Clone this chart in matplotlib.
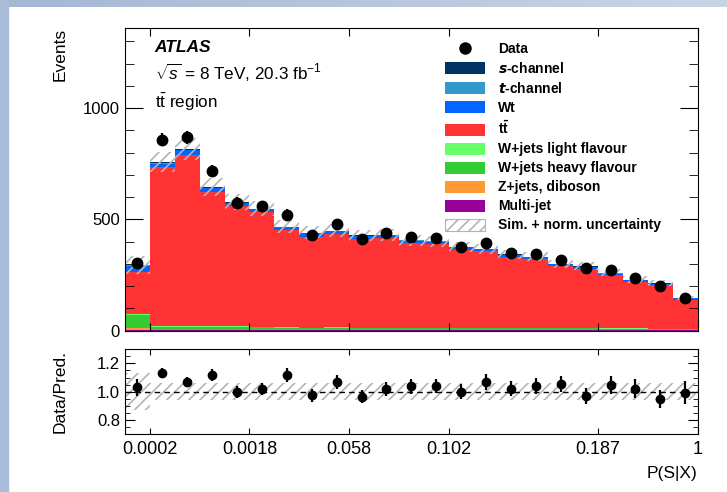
import numpy as np
import matplotlib
matplotlib.use("Agg")
import matplotlib.pyplot as plt
from matplotlib.patches import Patch, Rectangle
from matplotlib.lines import Line2D

plt.rcParams['font.family'] = ['Liberation Sans', 'DejaVu Sans']
plt.rcParams['mathtext.fontset'] = 'custom'
plt.rcParams['mathtext.rm'] = 'Liberation Sans'
plt.rcParams['mathtext.it'] = 'Liberation Sans:italic'
plt.rcParams['mathtext.bf'] = 'Liberation Sans:bold'
plt.rcParams['hatch.linewidth'] = 1.2

# --- datos ---
tick_pos = [1, 5, 9, 13, 19, 23]
tick_labels = ['0.0002', '0.0018', '0.058', '0.102', '0.187', '1']

data = [305, 857, 870, 719, 576, 559, 522, 430, 480, 413, 438, 422,
        418, 377, 393, 350, 345, 317, 280, 272, 235, 202, 146]

multijet = [2, 1, 1, 1, 1, 1, 1, 1, 1, 1, 1, 1, 1, 1, 1, 1, 1, 1, 1, 1, 1, 1, 1]
zjets = [8, 3, 3, 3, 3, 3, 3, 2, 2, 2, 2, 2, 2, 2, 2, 2, 2, 2, 2, 2, 2, 2, 1]
wj_heavy = [62, 12, 12, 11, 11, 11, 10, 9, 9, 8, 9, 8, 8, 8, 8, 7, 7, 7, 7, 6, 6, 5, 4]
wj_light = [2, 3, 3, 6, 4, 3, 3, 2, 3, 3, 2, 2, 2, 2, 3, 2, 2, 2, 2, 1, 1, 1, 1]
ttbar = [192, 715, 770, 601, 540, 516, 436, 409, 420, 399, 403, 380,
         376, 351, 342, 319, 308, 278, 266, 240, 210, 195, 133]
wt = [26, 17, 21, 17, 14, 12, 12, 15, 12, 12, 11, 11, 10, 10, 9, 9, 9, 8, 8, 7, 7, 6, 5]
t_chan = [3, 4, 4, 3, 3, 2, 2, 2, 2, 2, 2, 2, 2, 2, 2, 2, 2, 2, 2, 2, 2, 2, 1]
s_chan = [1, 2, 2, 2, 1, 1, 1, 1, 1, 1, 1, 1, 1, 1, 1, 1, 1, 1, 1, 1, 1, 1, 1]

# incertidumbre relativa (sim. + norm.)
unc_rel = [0.133, 0.06, 0.062, 0.062, 0.062, 0.062, 0.062, 0.062, 0.062, 0.062, 0.062, 0.062,
           0.062, 0.062, 0.062, 0.062, 0.062, 0.062, 0.062, 0.062, 0.062, 0.062, 0.062]

# --- estilo ---
stack = [
    (multijet, '#990099', 'Multi-jet'),
    (zjets, '#ff9933', 'Z+jets, diboson'),
    (wj_heavy, '#33cc33', 'W+jets heavy flavour'),
    (wj_light, '#66ff66', 'W+jets light flavour'),
    (ttbar, '#ff3333', r't$\mathbf{\bar{t}}$'),
    (wt, '#0066ff', 'Wt'),
    (t_chan, '#3399cc', r'$\mathbfit{t}$-channel'),
    (s_chan, '#003366', r'$\mathbfit{s}$-channel'),
]
HATCH_COL = '#b4b4b4'

n = len(data)
x = np.arange(n)
centers = x + 0.5
data = np.array(data, dtype=float)
unc_rel = np.array(unc_rel)

fig = plt.figure(figsize=(7.27, 4.92), dpi=100)

# marco azul de la diapositiva
strip_top = fig.add_axes([0, 1 - 7 / 492, 1, 7 / 492])
strip_top.imshow(np.linspace(0, 1, 256)[None, :], aspect='auto',
                 cmap=matplotlib.colors.LinearSegmentedColormap.from_list('s', ['#a4b7d3', '#c9d5e7']),
                 extent=[0, 1, 0, 1])
strip_top.axis('off')
fig.patches.append(Rectangle((0, 0), 8 / 727, 1, transform=fig.transFigure, color='#a9bcd8', zorder=0))

ax = fig.add_axes([0.1719, 0.3278, 0.7878, 0.6153])
rax = fig.add_axes([0.1719, 0.1179, 0.7878, 0.1722])

bottom = np.zeros(n)
for vals, col, lab in stack:
    vals = np.array(vals, dtype=float)
    ax.bar(x, vals, bottom=bottom, width=1.0, align='edge', color=col, linewidth=0)
    bottom += vals
total = bottom

unc = total * unc_rel
ax.bar(x, 2 * unc, bottom=total - unc, width=1.0, align='edge', fill=False,
       hatch='///', edgecolor=HATCH_COL, linewidth=0)

err = np.sqrt(data)
ax.errorbar(centers, data, yerr=err, fmt='o', color='black', markersize=7.5,
            elinewidth=1.6, capsize=0)

ax.set_xlim(0, n)
ax.set_ylim(0, 1360)
ax.set_yticks([0, 500, 1000])
ax.set_yticks(np.arange(0, 1360, 100), minor=True)
ax.set_xticks(tick_pos)
ax.set_xticklabels([])
ax.tick_params(axis='both', which='both', direction='in', top=True, right=True, labelsize=12)
ax.tick_params(axis='y', which='major', length=13)
ax.tick_params(axis='y', which='minor', length=6.5)
ax.tick_params(axis='x', which='major', length=6)
ax.set_ylabel('Events', fontsize=12.5, loc='top')
ax.yaxis.set_label_coords(-0.101, 1.0)

ax.text(0.052, 0.935, 'ATLAS', transform=ax.transAxes, fontsize=12.5,
        fontweight='bold', fontstyle='italic', va='center')
ax.text(0.052, 0.85, r'$\sqrt{s}$ = 8 TeV, 20.3 fb$^{-1}$', transform=ax.transAxes,
        fontsize=12.3, va='center')
ax.text(0.052, 0.755, r't$\bar{\rm t}$ region', transform=ax.transAxes,
        fontsize=12.3, va='center')

handles = [Line2D([], [], marker='o', color='black', linestyle='none', markersize=8)]
labels = ['Data']
for vals, col, lab in reversed(stack):
    handles.append(Patch(facecolor=col, edgecolor='none'))
    labels.append(lab)
handles.append(Patch(facecolor='white', edgecolor=HATCH_COL, hatch='///', linewidth=0.8))
labels.append('Sim. + norm. uncertainty')
leg = ax.legend(handles, labels, loc='upper left', bbox_to_anchor=(0.559, 0.953),
                frameon=False, fontsize=10, handlelength=2.9, handleheight=0.95,
                handletextpad=0.9, labelspacing=0.36, borderpad=0, borderaxespad=0)
for t in leg.get_texts():
    t.set_fontweight('bold')

# --- panel de cociente ---
ratio = data / total
rerr = err / total
rax.bar(x, 2 * unc_rel, bottom=1 - unc_rel, width=1.0, align='edge', fill=False,
        hatch='///', edgecolor=HATCH_COL, linewidth=0)
rax.axhline(1.0, color='black', linestyle=(0, (4, 3)), linewidth=1)
rax.errorbar(centers, ratio, yerr=rerr, fmt='o', color='black', markersize=6,
             elinewidth=1.6, capsize=0)
rax.set_xlim(0, n)
rax.set_ylim(0.7, 1.3)
rax.set_yticks([0.8, 1.0, 1.2])
rax.set_yticks(np.arange(0.7, 1.31, 0.05), minor=True)
rax.set_yticklabels(['0.8', '1.0', '1.2'])
rax.set_xticks(tick_pos)
rax.set_xticklabels(tick_labels)
rax.tick_params(axis='both', which='both', direction='in', top=True, right=True, labelsize=12)
rax.tick_params(axis='x', labelsize=13)
rax.tick_params(axis='y', which='major', length=7.5)
rax.tick_params(axis='y', which='minor', length=3.8)
rax.tick_params(axis='x', which='major', length=4.5, pad=5)
rax.set_ylabel('Data/Pred.', fontsize=12.5)
rax.yaxis.set_label_coords(-0.101, 0.5)
rax.set_xlabel('P(S|X)', fontsize=12.5, loc='right', labelpad=6)

fig.savefig('out.png', dpi=100)
